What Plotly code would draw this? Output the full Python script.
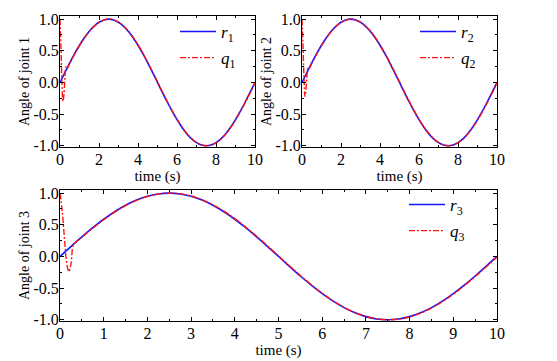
import plotly.graph_objects as go

# time samples and reference trajectory (same for all joints)
t = [0, 0.25, 0.5, 0.75, 1, 1.25, 1.5, 1.75, 2, 2.25, 2.5, 2.75, 3, 3.25, 3.5, 3.75,
     4, 4.25, 4.5, 4.75, 5, 5.25, 5.5, 5.75, 6, 6.25, 6.5, 6.75, 7, 7.25, 7.5, 7.75,
     8, 8.25, 8.5, 8.75, 9, 9.25, 9.5, 9.75, 10]
r = [0.0, 0.156, 0.309, 0.454, 0.588, 0.707, 0.809, 0.891, 0.951, 0.988, 1.0, 0.988,
     0.951, 0.891, 0.809, 0.707, 0.588, 0.454, 0.309, 0.156, 0.0, -0.156, -0.309, -0.454,
     -0.588, -0.707, -0.809, -0.891, -0.951, -0.988, -1.0, -0.988, -0.951, -0.891, -0.809,
     -0.707, -0.588, -0.454, -0.309, -0.156, 0.0]

# actual joint angles: transient at start, then tracks r with a small lag
tq = [0, 0.05, 0.1, 0.15, 0.2, 0.25, 0.3, 0.35, 0.5, 0.75, 1, 1.25, 1.5, 1.75, 2, 2.25,
      2.5, 2.75, 3, 3.25, 3.5, 3.75, 4, 4.25, 4.5, 4.75, 5, 5.25, 5.5, 5.75, 6, 6.25,
      6.5, 6.75, 7, 7.25, 7.5, 7.75, 8, 8.25, 8.5, 8.75, 9, 9.25, 9.5, 9.75, 10]
tail = [0.30, 0.446, 0.581, 0.700, 0.803, 0.886, 0.948, 0.986, 1.0, 0.990, 0.955,
        0.897, 0.816, 0.715, 0.597, 0.463, 0.319, 0.166, 0.009, -0.147, -0.300, -0.446,
        -0.581, -0.700, -0.803, -0.886, -0.948, -0.986, -1.0, -0.990, -0.955, -0.897,
        -0.816, -0.715, -0.597, -0.463, -0.319, -0.166, -0.01]
q1 = [1.0, 0.55, 0.0, -0.3, -0.2, 0.05, 0.25, 0.21] + tail
q2 = [1.0, 0.6, 0.1, -0.22, -0.12, 0.08, 0.22, 0.21] + tail
q3 = [1.0, 0.72, 0.3, -0.08, -0.24, -0.12, 0.17, 0.22] + tail

y_ticks = [-1.0, -0.5, 0.0, 0.5, 1.0]
y_labels = ["-1.0", "-0.5", "0.0", "0.5", "1.0"]

BLUE = "#1414ff"
RED = "#ff1414"
FONT = "Liberation Serif"
# page body keeps its default 8px margin, so the figure is sized to the visible area
W, H = 549, 353

fig = go.Figure()

panels = [
    ("x", "y", "legend", q1, "1"),
    ("x2", "y2", "legend2", q2, "2"),
    ("x3", "y3", "legend3", q3, "3"),
]
for xa, ya, lg, q, k in panels:
    fig.add_trace(go.Scatter(
        x=t, y=r, xaxis=xa, yaxis=ya, legend=lg, legendgroup="r" + k,
        name=f"<i>r</i><sub>{k}</sub>", mode="lines", line_shape="spline",
        line=dict(color=BLUE, width=1.6),
    ))
    fig.add_trace(go.Scatter(
        x=tq, y=q, xaxis=xa, yaxis=ya, legend=lg, legendgroup="q" + k,
        name=f"<i>q</i><sub>{k}</sub>", mode="lines", line_shape="spline",
        line=dict(color=RED, width=1.4, dash="6px,2px,2px,2px"),
    ))


def xax(domain, anchor, dtick, minor):
    return dict(
        domain=domain, anchor=anchor, range=[0, 10], dtick=dtick, tick0=0,
        showline=True, linecolor="black", linewidth=1, mirror="allticks",
        ticks="inside", ticklen=4, tickcolor="black", showgrid=False, zeroline=False,
        minor=dict(ticks="inside", ticklen=2, dtick=minor, tickcolor="black", showgrid=False),
        title=dict(text="time (s)", standoff=0, font=dict(size=15)),
        tickfont=dict(size=16), ticklabelstandoff=-2, automargin=False,
    )


def yax(domain, anchor, label):
    return dict(
        domain=domain, anchor=anchor, range=[-1.02, 1.05],
        tickvals=y_ticks, ticktext=y_labels,
        showline=True, linecolor="black", linewidth=1, mirror="allticks",
        ticks="inside", ticklen=4, tickcolor="black", showgrid=False, zeroline=False,
        minor=dict(ticks="inside", ticklen=2, dtick=0.25, tickcolor="black", showgrid=False),
        title=dict(text=label, standoff=0, font=dict(size=14)),
        tickfont=dict(size=16), ticklabelstandoff=-3, automargin=False,
    )


top = [1 - 139 / H, 1 - 8 / H]
bot = [1 - 313 / H, 1 - 182 / H]


def leg(x, y):
    return dict(x=x, y=y, xanchor="left", yanchor="top", bgcolor="rgba(0,0,0,0)",
                font=dict(size=17), tracegroupgap=1, itemwidth=36)


fig.update_layout(
    width=W, height=H,
    paper_bgcolor="white", plot_bgcolor="white",
    font=dict(family=FONT, color="black"),
    margin=dict(l=0, r=0, t=0, b=0, autoexpand=False),
    xaxis=xax([52 / W, 247 / W], "y", 2, 1),
    yaxis=yax(top, "x", "Angle of joint 1"),
    xaxis2=xax([294 / W, 489 / W], "y2", 2, 1),
    yaxis2=yax(top, "x2", "Angle of joint 2"),
    xaxis3=xax([52 / W, 489 / W], "y3", 1, 0.5),
    yaxis3=yax(bot, "x3", "Angle of joint 3"),
    legend=leg(167 / W, 1 - 6 / H),
    legend2=leg(407 / W, 1 - 6 / H),
    legend3=leg(396 / W, 1 - 179 / H),
)

fig.write_html("out.html")
